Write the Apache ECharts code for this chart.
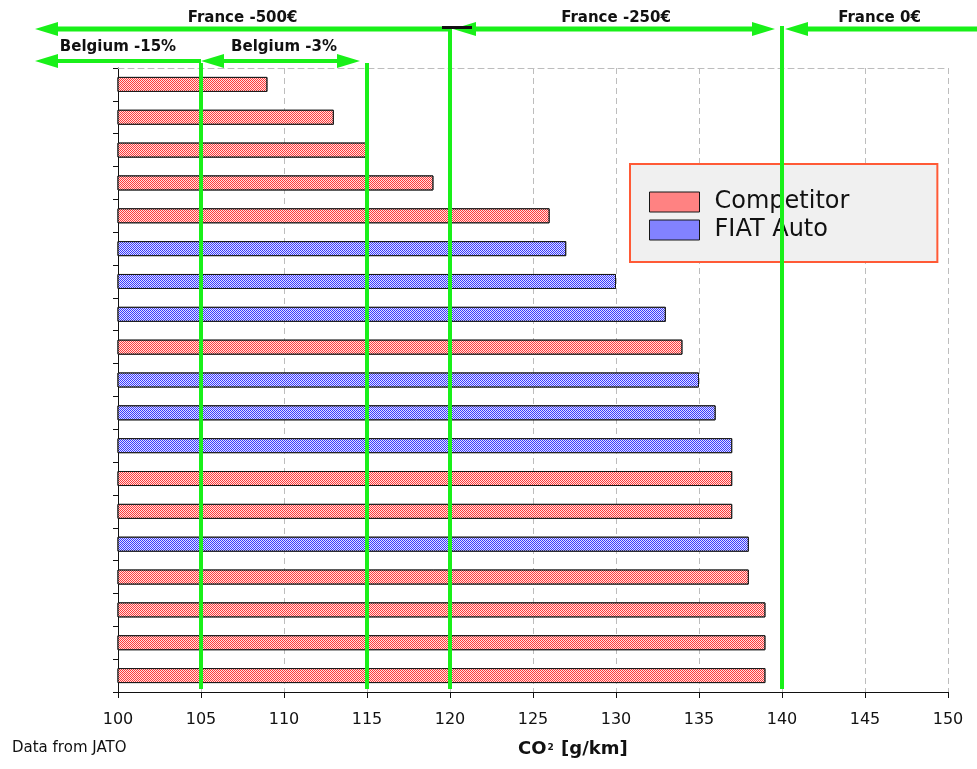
<!DOCTYPE html>
<html>
<head>
<meta charset="utf-8">
<script src="https://cdn.jsdelivr.net/npm/echarts@6/dist/echarts.min.js"></script>
<style>
  html, body { margin: 0; padding: 0; background: #ffffff; }
  #chart { width: 977px; height: 769px; }
</style>
</head>
<body>
<div id="chart"></div>
<script>
// Models ranked by CO2 emissions (top = lowest)
const models = ['M01','M02','M03','M04','M05','M06','M07','M08','M09','M10',
                'M11','M12','M13','M14','M15','M16','M17','M18','M19'];
// CO2 g/km per model, split by maker group ('-' = not in that group)
const competitor = [109, 113, 115, 119, 126, '-', '-', '-', 134, '-', '-', '-', 137, 137, '-', 138, 139, 139, 139];
const fiatAuto   = ['-', '-', '-', '-', '-', 127, 130, 133, '-', 135, 136, 137, '-', '-', 138, '-', '-', '-', '-'];

// Axis ticks
const xTicks = [100, 105, 110, 115, 120, 125, 130, 135, 140, 145, 150];

// Incentive thresholds (g/km) and which scheme row they belong to
const thresholds     = [105, 115, 120, 140];
const thresholdRow   = ['belgium', 'belgium', 'france', 'france'];

// Incentive bands drawn as arrows above the plot
const bandLabels = ['France -500€', 'France -250€', 'France 0€', 'Belgium -15%', 'Belgium -3%'];
const bandFrom   = [95, 120, 140, 95, 105];
const bandTo     = [120, 140, 152, 105, 115];
const bandRow    = ['france', 'france', 'france', 'belgium', 'belgium'];
const bandHeads  = ['left', 'both', 'left', 'left', 'both'];

const GREEN = '#19f019';
const ROW_Y = { france: 29, belgium: 61 };
const LABEL_Y = { france: 18, belgium: 47 };
const HEAD_LEN = 23, HEAD_HALF = 7;

// fine white dot texture laid over the bar colour
function dots() {
  return {
    color: 'rgba(255,255,255,0.85)',
    symbol: 'rect',
    symbolSize: 1,
    dashArrayX: [[1, 1], [0, 1, 1, 0]],
    dashArrayY: [1, 0]
  };
}

const chart = echarts.init(document.getElementById('chart'), null, { renderer: 'canvas' });

const option = {
  animation: false,
  backgroundColor: '#ffffff',
  grid: { left: 118, right: 29, top: 68, bottom: 77, containLabel: false },
  legend: {
    orient: 'vertical',
    left: 630, top: 164,
    backgroundColor: '#f0f0f0',
    borderColor: '#ff5a36',
    borderWidth: 2,
    borderRadius: 0,
    padding: [26, 88, 20, 19],
    itemWidth: 50, itemHeight: 20, itemGap: 4,
    icon: 'rect',
    textStyle: { fontFamily: 'DejaVu Sans', fontSize: 24, lineHeight: 20, color: '#111', padding: [0, 0, 0, 10] },
    data: [
      { name: 'Competitor', itemStyle: { color: '#ff8282', decal: 'none', borderColor: '#161616', borderWidth: 1 } },
      { name: 'FIAT Auto',  itemStyle: { color: '#8282ff', decal: 'none', borderColor: '#161616', borderWidth: 1 } }
    ]
  },
  xAxis: [{
    type: 'value', min: 100, max: 150, interval: 5,
    axisLine: { show: true, lineStyle: { color: '#111', width: 1 } },
    axisTick: { show: true, length: 6, lineStyle: { color: '#111' } },
    axisLabel: {
      margin: 20, fontFamily: 'DejaVu Sans', fontSize: 16, color: '#111',
      formatter: v => xTicks.includes(v) ? String(v) : ''
    },
    splitLine: { show: true, lineStyle: { color: '#bdbdbd', type: [6, 4], width: 1 } }
  }, {
    type: 'value', min: 100, max: 150, position: 'top',
    axisLine: { show: true, lineStyle: { color: '#bdbdbd', type: [6, 4], width: 1 } },
    axisTick: { show: false }, axisLabel: { show: false }, splitLine: { show: false }
  }],
  yAxis: {
    type: 'category', data: models, inverse: true,
    axisLine: { show: true, lineStyle: { color: '#111', width: 1 } },
    axisTick: { show: true, length: 5, lineStyle: { color: '#111' } },
    axisLabel: { show: false },
    splitLine: { show: false }
  },
  series: [{
    name: 'Competitor', type: 'bar', data: competitor, barWidth: 15,
    itemStyle: { color: '#ff3a3a', borderColor: '#161616', borderWidth: 1, decal: dots() }
  }, {
    name: 'FIAT Auto', type: 'bar', data: fiatAuto, barWidth: 15, barGap: '-100%',
    itemStyle: { color: '#3a3aff', borderColor: '#161616', borderWidth: 1, decal: dots() }
  }, {
    // vertical threshold lines
    type: 'custom', silent: true, z: 10, clip: false,
    data: thresholds.map((v, i) => [v, i]),
    encode: { x: 0 },
    renderItem: function (params, api) {
      const i = api.value(1);
      const x = api.coord([api.value(0), 0])[0];
      const cs = params.coordSys;
      const row = thresholdRow[i];
      const top = row === 'france' ? ROW_Y.france - 3 : ROW_Y.belgium + 2;
      return {
        type: 'rect',
        shape: { x: x - 2, y: top, width: 4, height: cs.y + cs.height - top - 3 },
        style: { fill: GREEN }
      };
    }
  }, {
    // incentive band arrows with labels
    type: 'custom', silent: true, z: 11, clip: false,
    data: bandLabels.map((_, i) => [bandFrom[i], bandTo[i], i]),
    encode: { x: [0, 1] },
    renderItem: function (params, api) {
      const i = api.value(2);
      const x1 = api.coord([api.value(0), 0])[0];
      const x2raw = api.coord([api.value(1), 0])[0];
      const x2 = Math.min(x2raw, api.getWidth());
      const y = ROW_Y[bandRow[i]];
      const heads = bandHeads[i];
      const lw = bandRow[i] === 'france' ? 5 : 4;
      const ls = heads === 'left' || heads === 'both' ? x1 + HEAD_LEN - 2 : x1;
      const le = heads === 'both' ? x2 - HEAD_LEN + 2 : x2;
      const children = [{
        type: 'rect', shape: { x: ls, y: y - lw / 2, width: le - ls, height: lw },
        style: { fill: GREEN }
      }];
      const tipL = bandRow[i] === 'france' && i > 0 ? x1 + 3 : x1;
      const tipR = x2 - 7;
      if (heads === 'left' || heads === 'both') {
        children.push({ type: 'polygon',
          shape: { points: [[tipL, y], [tipL + HEAD_LEN, y - HEAD_HALF], [tipL + HEAD_LEN, y + HEAD_HALF]] },
          style: { fill: GREEN } });
      }
      if (heads === 'both') {
        children.push({ type: 'polygon',
          shape: { points: [[tipR, y], [tipR - HEAD_LEN, y - HEAD_HALF], [tipR - HEAD_LEN, y + HEAD_HALF]] },
          style: { fill: GREEN } });
      }
      if (bandLabels[i] === 'France -250€') {
        // dark cap marking the start of the -250€ band
        children.push({ type: 'rect', shape: { x: x1 - 8, y: y - 3, width: 30, height: 3 }, style: { fill: '#111' } });
      }
      children.push({
        type: 'text',
        style: {
          text: bandLabels[i], x: (x1 + x2) / 2, y: LABEL_Y[bandRow[i]],
          align: 'center', verticalAlign: 'middle',
          font: 'bold 15px "DejaVu Sans"', fill: '#111'
        }
      });
      return { type: 'group', children: children };
    }
  }],
  graphic: [{
    type: 'text', left: 12, top: 741,
    style: { text: 'Data from JATO', font: '15px "DejaVu Sans"', fill: '#111' }
  }, {
    type: 'text', left: 518, top: 740,
    style: {
      text: '{a|CO}{b|2}{a| [g/km]}',
      rich: {
        a: { font: 'bold 18px "DejaVu Sans"', fill: '#111' },
        b: { font: 'bold 9px "DejaVu Sans"', fill: '#111', padding: [0, 1, 2, 1] }
      }
    }
  }]
};

chart.setOption(option);
</script>
</body>
</html>
